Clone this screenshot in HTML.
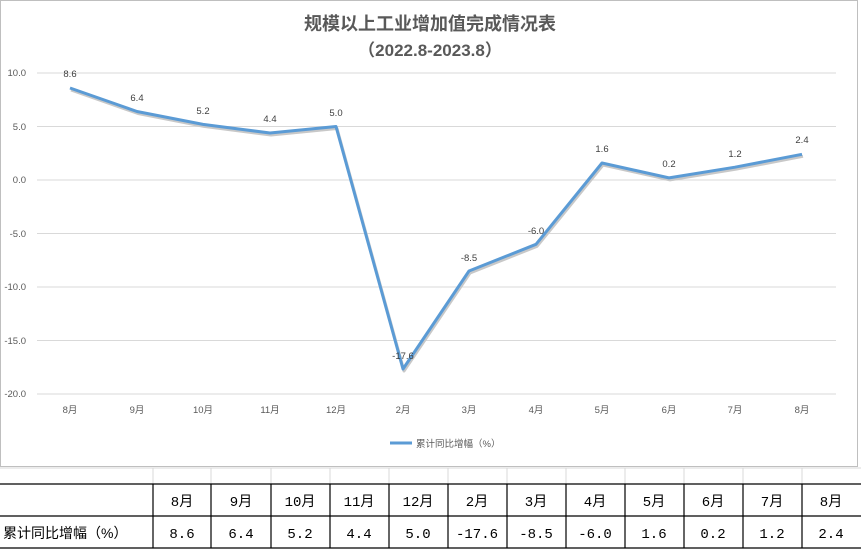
<!DOCTYPE html>
<html><head><meta charset="utf-8"><style>
body{margin:0;width:861px;height:551px;background:#fff;overflow:hidden;font-family:"Liberation Sans","Noto Sans CJK SC",sans-serif}
</style></head><body>
<svg width="861" height="551" style="position:absolute;left:0;top:0" font-family="Liberation Sans, Noto Sans CJK SC, sans-serif">
<rect x="0.5" y="0.5" width="857" height="466" fill="#fff" stroke="#bfbfbf"/>
<text x="430" y="30" text-anchor="middle" font-size="18" font-weight="bold" fill="#595959">规模以上工业增加值完成情况表</text>
<text x="430" y="56" text-anchor="middle" font-size="17" font-weight="bold" fill="#595959">（2022.8-2023.8）</text>
<g stroke="#d9d9d9" stroke-width="1">
<line x1="37" x2="836" y1="73" y2="73"/><line x1="37" x2="836" y1="126.5" y2="126.5"/><line x1="37" x2="836" y1="180" y2="180"/><line x1="37" x2="836" y1="233.5" y2="233.5"/><line x1="37" x2="836" y1="287" y2="287"/><line x1="37" x2="836" y1="340.5" y2="340.5"/><line x1="37" x2="836" y1="394" y2="394"/>
</g>
<g font-size="9.5" fill="#595959" text-anchor="end">
<text x="26" y="76">10.0</text><text x="26" y="130">5.0</text><text x="26" y="183">0.0</text><text x="26" y="237">-5.0</text><text x="26" y="290">-10.0</text><text x="26" y="344">-15.0</text><text x="26" y="397">-20.0</text>
</g>
<g font-size="9.5" fill="#595959" text-anchor="middle">
<text x="70" y="413">8月</text><text x="137" y="413">9月</text><text x="203" y="413">10月</text><text x="270" y="413">11月</text><text x="336" y="413">12月</text><text x="403" y="413">2月</text><text x="469" y="413">3月</text><text x="536" y="413">4月</text><text x="602" y="413">5月</text><text x="669" y="413">6月</text><text x="735" y="413">7月</text><text x="802" y="413">8月</text>
</g>
<polyline fill="none" stroke="#c8c8c8" stroke-width="3" stroke-linejoin="round" transform="translate(1,2)" points="70,88 137,111.5 203,124.4 270,133 336,126.5 403,369 469,271 536,244.3 602,163 669,177.9 735,167.2 802,154.3"/>
<polyline fill="none" stroke="#5b9bd5" stroke-width="3" stroke-linejoin="round" points="70,88 137,111.5 203,124.4 270,133 336,126.5 403,369 469,271 536,244.3 602,163 669,177.9 735,167.2 802,154.3"/>
<g font-size="9.5" fill="#404040" text-anchor="middle">
<text x="70" y="77">8.6</text><text x="137" y="101">6.4</text><text x="203" y="114">5.2</text><text x="270" y="122">4.4</text><text x="336" y="116">5.0</text><text x="403" y="359">-17.6</text><text x="469" y="261">-8.5</text><text x="536" y="234">-6.0</text><text x="602" y="152">1.6</text><text x="669" y="167">0.2</text><text x="735" y="157">1.2</text><text x="802" y="143">2.4</text>
</g>
<line x1="390" x2="412" y1="443" y2="443" stroke="#5b9bd5" stroke-width="3"/>
<text x="416" y="447" font-size="9.5" fill="#595959">累计同比增幅（%）</text>
<g stroke="#d9d9d9"><line x1="0" x2="861" y1="468" y2="468"/>
<line x1="153" x2="153" y1="468" y2="484"/><line x1="211" x2="211" y1="468" y2="484"/><line x1="271" x2="271" y1="468" y2="484"/><line x1="330" x2="330" y1="468" y2="484"/><line x1="389" x2="389" y1="468" y2="484"/><line x1="448" x2="448" y1="468" y2="484"/><line x1="507" x2="507" y1="468" y2="484"/><line x1="566" x2="566" y1="468" y2="484"/><line x1="625" x2="625" y1="468" y2="484"/><line x1="684" x2="684" y1="468" y2="484"/><line x1="743" x2="743" y1="468" y2="484"/><line x1="802" x2="802" y1="468" y2="484"/></g>
<g stroke="#000" stroke-width="1.2">
<line x1="0" x2="861" y1="484" y2="484"/><line x1="0" x2="861" y1="516" y2="516"/><line x1="0" x2="861" y1="548" y2="548"/>
<line x1="153" x2="153" y1="484" y2="548"/><line x1="211" x2="211" y1="484" y2="548"/><line x1="271" x2="271" y1="484" y2="548"/><line x1="330" x2="330" y1="484" y2="548"/><line x1="389" x2="389" y1="484" y2="548"/><line x1="448" x2="448" y1="484" y2="548"/><line x1="507" x2="507" y1="484" y2="548"/><line x1="566" x2="566" y1="484" y2="548"/><line x1="625" x2="625" y1="484" y2="548"/><line x1="684" x2="684" y1="484" y2="548"/><line x1="743" x2="743" y1="484" y2="548"/><line x1="802" x2="802" y1="484" y2="548"/>
</g>
<g font-size="14" fill="#000" text-anchor="middle" font-family="Liberation Mono, Noto Sans CJK SC, monospace">
<text x="182" y="506">8月</text><text x="241" y="506">9月</text><text x="300" y="506">10月</text><text x="359" y="506">11月</text><text x="418" y="506">12月</text><text x="477" y="506">2月</text><text x="536" y="506">3月</text><text x="595" y="506">4月</text><text x="654" y="506">5月</text><text x="713" y="506">6月</text><text x="772" y="506">7月</text><text x="831" y="506">8月</text>
<text x="182" y="538">8.6</text><text x="241" y="538">6.4</text><text x="300" y="538">5.2</text><text x="359" y="538">4.4</text><text x="418" y="538">5.0</text><text x="477" y="538">-17.6</text><text x="536" y="538">-8.5</text><text x="595" y="538">-6.0</text><text x="654" y="538">1.6</text><text x="713" y="538">0.2</text><text x="772" y="538">1.2</text><text x="831" y="538">2.4</text>
</g>
<text x="3" y="538" font-size="14" fill="#000">累计同比增幅（%）</text>
</svg>
</body></html>
